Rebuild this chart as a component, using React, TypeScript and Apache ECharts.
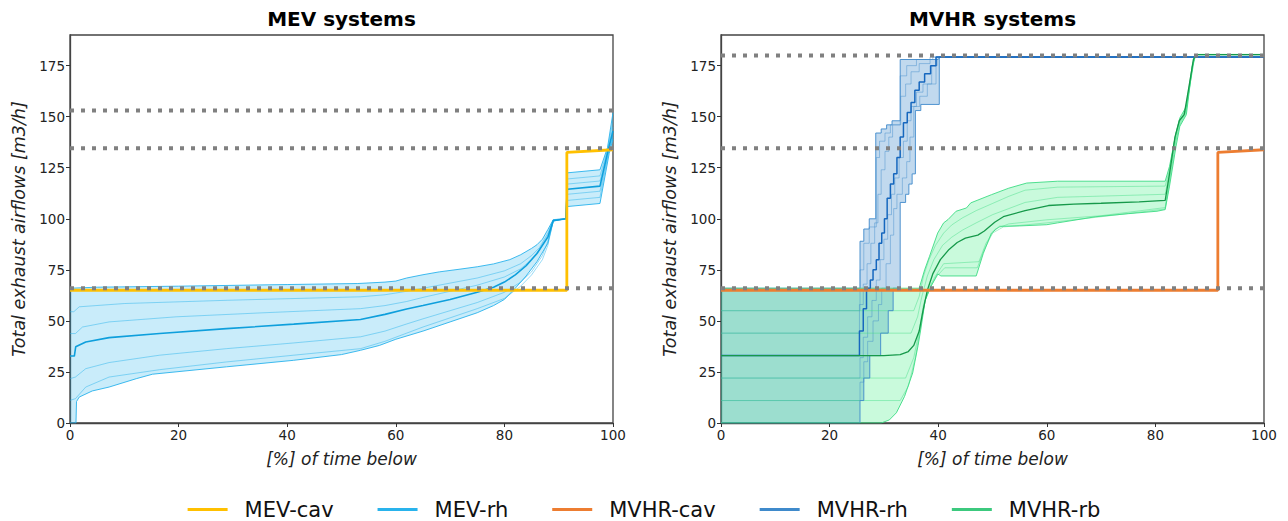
import React, { useEffect, useRef } from "react";
import * as echarts from "echarts";

// ---------- reference levels ----------
const mevRefLevels = [66, 134.5, 153];
const mvhrRefLevels = [66, 134.5, 180];
const yTicks = [0, 25, 50, 75, 100, 125, 150, 175];

// ---------- constant airflow (cav) ----------
const cavCurve = [[0, 65], [91.5, 65], [91.5, 132.5], [100, 133.8]];

// ---------- MEV-rh (min, quantiles, median, max) ----------
const mevRhMax = [[0, 66], [5, 66.5], [20, 67], [40, 67.8], [53, 68.3], [58, 69], [60, 69.5], [62, 71], [65, 72.6], [68, 74], [72, 75.4], [75, 76.5], [78, 77.9], [81, 80], [83, 82.4], [85, 85.5], [86, 87.3], [87, 90], [88, 94.7], [89, 99.6], [91.3, 100], [91.6, 122.5], [97.6, 124], [99, 135], [100, 152]];
const mevRhQ5 = [[0, 54.5], [0.7, 54.5], [1.7, 56.9], [10, 58.5], [29, 60.1], [53.5, 61.8], [58, 62.8], [62, 64.5], [65, 66], [70, 68.5], [75, 71], [80, 74.5], [83, 78], [85, 82], [86.5, 86], [88, 93], [89, 99.5], [91.3, 100], [91.6, 119.5], [97.6, 121], [99, 134], [100, 148]];
const mevRhQ4 = [[0, 43.8], [1, 43.8], [2.3, 47], [7.2, 49.5], [19.6, 52], [35, 53.9], [53.5, 56], [58, 57.5], [62, 59.5], [65, 61.5], [70, 64.5], [75, 67.5], [80, 71.5], [83, 75.5], [85, 80], [86.5, 85], [88, 92], [89, 99.5], [91.3, 100], [91.6, 117], [97.6, 118.5], [99.1, 134], [100, 145]];
const mevRhMed = [[0, 32.8], [0.8, 32.8], [1.05, 37.3], [2.9, 39.7], [7.2, 41.8], [16.5, 43.8], [28.8, 46.2], [41.2, 48.4], [53.5, 50.7], [58, 53.2], [62, 55.8], [65, 57.5], [70, 60.5], [75, 64], [78, 66.5], [80, 69], [82, 72.5], [84, 77], [86, 83], [88, 91], [89, 99], [91.3, 100], [91.6, 114.5], [97.6, 116], [99.1, 133.5], [100, 143]];
const mevRhQ2 = [[0, 21.7], [1, 22.5], [2.9, 26.6], [7.2, 29.6], [16.5, 33.2], [28.8, 36.4], [41.2, 39.2], [53.5, 42.2], [58, 45], [62, 48.5], [65, 51], [70, 55], [75, 59], [80, 64], [83, 69], [85, 74], [87, 82], [88, 89], [89, 99], [91.3, 100], [91.6, 112], [97.6, 113.5], [99.2, 133], [100, 141]];
const mevRhQ1 = [[0, 11.1], [1, 11.9], [2.9, 17.6], [7.2, 22.5], [16.5, 26.1], [28.8, 29.9], [41.2, 33.2], [53.5, 36.4], [58, 40], [62, 44], [65, 47], [70, 51.5], [75, 56], [80, 61], [83, 67], [85, 72.5], [87, 80], [88, 87], [89, 99], [91.3, 100], [91.6, 109], [97.6, 110.5], [99.2, 132.5], [100, 140]];
const mevRhMin = [[0, 0], [1.1, 0], [1.2, 10.5], [1.7, 12.7], [4.1, 15.7], [7.2, 17.6], [12.2, 21.7], [15.2, 23.9], [28.8, 27.5], [41.2, 30.7], [50, 33.5], [53.5, 35.6], [57, 38], [60, 41], [65, 45], [70, 49.5], [75, 54], [78, 57.5], [80, 60.5], [82, 66], [84, 72], [86, 79], [88, 88], [89, 99], [91.3, 100], [91.6, 106], [97.6, 107.5], [99.3, 132], [100, 139]];

// ---------- MVHR-rh (stepped) ----------
const mvhrRhMax = [[0, 66], [25.6, 66], [25.6, 89], [26.3, 89], [26.3, 95], [27.3, 95], [27.3, 100], [28.5, 100], [28.5, 142], [29.5, 142], [29.5, 144], [30.5, 144], [30.5, 146], [31.5, 146], [31.5, 148], [33, 148], [33, 178], [40, 178], [40.3, 179.2], [100, 179.2]];
const mvhrRhQ5 = [[0, 55], [25.6, 55], [25.6, 75], [26.3, 75], [26.3, 88], [27.3, 88], [27.3, 96], [28.6, 96], [28.6, 130], [29.2, 130], [29.2, 138], [30.2, 138], [30.2, 142], [31.2, 142], [31.2, 146], [33, 146], [33, 170], [34.2, 170], [34.2, 175], [36, 175], [36, 178], [39, 178], [39, 179.2], [100, 179.2]];
const mvhrRhQ4 = [[0, 44], [25.5, 44], [25.5, 58], [26.2, 58], [26.2, 68], [26.9, 68], [26.9, 78], [27.6, 78], [27.6, 88], [28.3, 88], [28.3, 98], [28.9, 98], [28.9, 112], [29.5, 112], [29.5, 124], [30.2, 124], [30.2, 133], [30.9, 133], [30.9, 140], [31.6, 140], [31.6, 146], [33.1, 146], [33.1, 160], [34, 160], [34, 166], [35, 166], [35, 172], [36.5, 172], [36.5, 176], [38.5, 176], [38.5, 179.2], [100, 179.2]];
const mvhrRhMed = [[0, 33], [25.5, 33], [25.5, 45], [26.2, 45], [26.2, 56], [26.8, 56], [26.8, 66], [27.5, 66], [27.5, 70], [28, 70], [28, 75], [28.6, 75], [28.6, 80], [29.1, 80], [29.1, 88], [29.6, 88], [29.6, 93], [30.1, 93], [30.1, 100], [30.6, 100], [30.6, 110], [31.2, 110], [31.2, 117], [31.8, 117], [31.8, 122], [32.4, 122], [32.4, 130], [33, 130], [33, 140], [33.6, 140], [33.6, 147], [34.3, 147], [34.3, 152], [35, 152], [35, 157], [35.7, 157], [35.7, 163], [36.5, 163], [36.5, 167], [37.5, 167], [37.5, 171], [38.6, 171], [38.6, 175], [39.6, 175], [39.6, 179.2], [100, 179.2]];
const mvhrRhQ2 = [[0, 22], [25.6, 22], [25.6, 32], [26.2, 32], [26.2, 42], [27, 42], [27, 52], [27.8, 52], [27.8, 60], [28.6, 60], [28.6, 70], [29.3, 70], [29.3, 80], [30, 80], [30, 90], [30.7, 90], [30.7, 102], [31.4, 102], [31.4, 112], [32, 112], [32, 120], [32.8, 120], [32.8, 130], [33.6, 130], [33.6, 138], [34.3, 138], [34.3, 148], [35, 148], [35, 155], [36, 155], [36, 162], [37.2, 162], [37.2, 166], [38.8, 166], [38.8, 175], [39.8, 175], [39.8, 179.2], [100, 179.2]];
const mvhrRhQ1 = [[0, 11], [25.6, 11], [25.6, 20], [26.3, 20], [26.3, 30], [27, 30], [27, 40], [28, 40], [28, 50], [29, 50], [29, 58], [29.6, 58], [29.6, 66], [30.4, 66], [30.4, 78], [31.2, 78], [31.2, 92], [31.8, 92], [31.8, 105], [32.4, 105], [32.4, 112], [33.4, 112], [33.4, 120], [34.2, 120], [34.2, 128], [34.8, 128], [34.8, 140], [35.5, 140], [35.5, 155], [36.6, 155], [36.6, 160], [38, 160], [38, 166], [39.6, 166], [39.6, 179.2], [100, 179.2]];
const mvhrRhMin = [[0, 0], [25.6, 0], [25.6, 11], [26.3, 11], [26.3, 22], [27.4, 22], [27.4, 33], [29.4, 33], [29.4, 44], [30.8, 44], [30.8, 55], [31.7, 55], [31.7, 66], [33, 66], [33, 108], [34, 108], [34, 112], [34.6, 112], [34.6, 117], [35.2, 117], [35.2, 122], [35.8, 122], [35.8, 153], [36.8, 153], [36.8, 156], [40.2, 156], [40.2, 179.2], [100, 179.2]];

// ---------- MVHR-rb ----------
const mvhrRbMax = [[0, 66], [36.5, 66], [37.5, 75], [38.4, 81.6], [39.9, 93], [41, 98], [41.8, 99.6], [43.3, 103.7], [45.2, 105.3], [46, 107.8], [49.8, 111.8], [53, 115], [56.3, 117.5], [62, 118.4], [81.8, 118.4], [82.6, 125.7], [83.8, 142], [84.5, 149.4], [85.7, 155], [87.2, 178.8], [87.6, 180.5], [100, 180.5]];
const mvhrRbQ5 = [[0, 55], [35.5, 55], [36.5, 62], [37.3, 72], [38.3, 80], [39.5, 87], [41, 93], [42.5, 97], [44.5, 100.5], [47, 104], [50, 107.5], [53, 111], [56, 114], [62, 115.5], [81.8, 116], [82.6, 124], [83.7, 141], [84.5, 148.5], [85.5, 153], [87, 178], [87.5, 180.4], [100, 180.4]];
const mvhrRbQ4 = [[0, 44], [35, 44], [36.2, 52], [37, 62], [38, 72], [39.2, 80], [40.8, 87], [42.5, 91], [44.5, 94.5], [47, 98], [50, 102], [53, 105], [56, 108], [62, 110.5], [81.8, 112], [82.6, 123], [83.7, 140], [84.5, 148], [85.5, 152], [87, 177], [87.6, 180.4], [100, 180.4]];
const mvhrRbMed = [[0, 33], [30, 33], [33, 33.5], [34.5, 35], [35.5, 38], [36.5, 45], [37.2, 55], [38, 65], [39, 73], [40.4, 80], [42, 85], [43.5, 88.4], [45, 90.5], [47.3, 92], [48.5, 94], [50.4, 98.3], [52, 101], [56, 104], [60.3, 106.5], [65, 107.2], [70, 107.6], [77, 108.3], [81.8, 109], [82.6, 122], [83.6, 140], [84.4, 148], [85.3, 151], [86.2, 165], [87, 178], [87.5, 180.4], [100, 180.4]];
const mvhrRbQ2 = [[0, 22], [34, 22], [35.5, 32], [36.5, 45], [37.3, 58], [38.3, 66], [39.5, 72], [41, 78], [47.5, 79], [48.8, 88], [50.5, 95], [53, 97.5], [60, 99.5], [70, 101.5], [81.8, 105.5], [82.6, 120], [83.7, 138], [84.5, 147], [85.6, 152], [86.9, 176], [87.5, 180.4], [100, 180.4]];
const mvhrRbQ1 = [[0, 11], [33, 11], [34.5, 18], [35.8, 32], [36.8, 48], [37.6, 60], [38.6, 67], [39.8, 72], [41.2, 76], [47.2, 76], [48.5, 85], [50, 93], [52, 96], [60, 98], [70, 101], [81.8, 104.8], [82.6, 118], [83.7, 137], [84.5, 146], [85.6, 151.5], [86.8, 175.5], [87.4, 180.4], [100, 180.4]];
const mvhrRbMin = [[0, 0], [29.5, 0], [31, 1.5], [32.3, 5], [33.8, 13], [35.3, 24.5], [36.3, 38], [36.8, 46], [37.6, 60], [38.7, 67], [39.9, 73], [40.5, 72], [47, 72], [48.3, 83], [49.8, 93], [51.3, 96.3], [55, 96.5], [60, 97.1], [62, 98], [69, 101], [75, 102.5], [80.3, 103.7], [81.8, 104.5], [82.6, 116], [83.8, 135.5], [84.5, 145.3], [85.7, 151], [86.8, 174.7], [87.4, 180.4], [100, 180.4]];

// ---------- colours ----------
const C = {
  mevCav: "#FFC000",
  mevRh: "#29B3EC",
  mevRhDark: "#0E9FDC",
  mevRhFill: "rgba(41,179,236,0.25)",
  mvhrCav: "#ED7D31",
  mvhrRh: "#3F8ACB",
  mvhrRhDark: "#1667BE",
  mvhrRhFill: "rgba(63,138,203,0.32)",
  mvhrRb: "#3DDC84",
  mvhrRbDark: "#16994A",
  mvhrRbFill: "rgba(61,236,130,0.28)",
  ref: "#808080",
};

const FONT = "DejaVu Sans";

function band(axis: number, upper: number[][], lower: number[][], fill: string, z: number) {
  return {
    type: "custom",
    xAxisIndex: axis,
    yAxisIndex: axis,
    silent: true,
    z,
    data: [[0, 0]],
    renderItem: (_p: any, api: any) => {
      const pts = [
        ...upper.map((p) => api.coord(p)),
        ...lower.slice().reverse().map((p) => api.coord(p)),
      ];
      return { type: "polygon", shape: { points: pts }, style: { fill } };
    },
  };
}

function line(axis: number, data: number[][], color: string, width: number, z: number, name?: string, opacity = 1, dash?: any) {
  const s: any = {
    type: "line",
    xAxisIndex: axis,
    yAxisIndex: axis,
    data,
    showSymbol: false,
    symbol: "none",
    silent: true,
    z,
    lineStyle: { color, width, opacity, type: dash || "solid", cap: "butt" },
    itemStyle: { color },
  };
  if (name) s.name = name;
  return s;
}

function refLines(axis: number, levels: number[]) {
  return levels.map((v) =>
    line(axis, [[0, v], [100, v]], C.ref, 4, 20, undefined, 1, [4, 7])
  );
}

function xAxis(idx: number) {
  return {
    type: "value",
    gridIndex: idx,
    min: 0,
    max: 100,
    interval: 20,
    name: "[%] of time below",
    nameLocation: "middle",
    nameGap: 27,
    nameTextStyle: { fontFamily: FONT, fontStyle: "italic", fontSize: 17, color: "#222" },
    axisLine: { show: true, lineStyle: { color: "#444", width: 1.3 } },
    axisTick: { show: true, length: 4, lineStyle: { color: "#333" } },
    axisLabel: { fontFamily: FONT, fontSize: 13.5, color: "#222", margin: 5 },
    splitLine: { show: false },
  };
}

function yAxis(idx: number) {
  return {
    type: "value",
    gridIndex: idx,
    min: 0,
    max: 190,
    interval: 25,
    name: "Total exhaust airflows [m3/h]",
    nameLocation: "middle",
    nameGap: 42,
    nameRotate: 90,
    nameTextStyle: { fontFamily: FONT, fontStyle: "italic", fontSize: 17.5, color: "#222" },
    axisLine: { show: true, lineStyle: { color: "#444", width: 1.3 } },
    axisTick: { show: true, length: 4, lineStyle: { color: "#333" }, customValues: yTicks },
    axisLabel: {
      fontFamily: FONT,
      fontSize: 13.5,
      color: "#222",
      margin: 5,
      customValues: yTicks,
      formatter: (v: number) => (v % 25 === 0 ? String(v) : ""),
    },
    splitLine: { show: false },
  };
}

export default function App() {
  const ref = useRef<HTMLDivElement>(null);
  useEffect(() => {
    if (!ref.current) return;
    const chart = echarts.init(ref.current, undefined, { renderer: "svg" });
    const series: any[] = [
      // MEV panel
      band(0, mevRhMax, mevRhMin, C.mevRhFill, 1),
      line(0, mevRhQ5, C.mevRh, 0.8, 2, undefined, 0.6),
      line(0, mevRhQ4, C.mevRh, 0.8, 2, undefined, 0.6),
      line(0, mevRhQ2, C.mevRh, 0.8, 2, undefined, 0.6),
      line(0, mevRhQ1, C.mevRh, 0.8, 2, undefined, 0.6),
      line(0, mevRhMax, C.mevRh, 1, 3, undefined, 0.9),
      line(0, mevRhMin, C.mevRh, 1, 3, undefined, 0.9),
      line(0, mevRhMed, C.mevRhDark, 1.6, 4, "MEV-rh"),
      line(0, cavCurve, C.mevCav, 2.8, 10, "MEV-cav"),
      ...refLines(0, mevRefLevels),
      // MVHR panel
      band(1, mvhrRhMax, mvhrRhMin, C.mvhrRhFill, 1),
      band(1, mvhrRbMax, mvhrRbMin, C.mvhrRbFill, 1),
      line(1, mvhrRhQ5, C.mvhrRh, 0.8, 2, undefined, 0.55),
      line(1, mvhrRhQ4, C.mvhrRh, 0.8, 2, undefined, 0.55),
      line(1, mvhrRhQ2, C.mvhrRh, 0.8, 2, undefined, 0.55),
      line(1, mvhrRhQ1, C.mvhrRh, 0.8, 2, undefined, 0.55),
      line(1, mvhrRhMax, C.mvhrRh, 1, 3, undefined, 0.9),
      line(1, mvhrRhMin, C.mvhrRh, 1, 3, undefined, 0.9),
      line(1, mvhrRhMed, C.mvhrRhDark, 1.5, 4, "MVHR-rh"),
      line(1, mvhrRbQ5, C.mvhrRb, 0.8, 2, undefined, 0.55),
      line(1, mvhrRbQ4, C.mvhrRb, 0.8, 2, undefined, 0.55),
      line(1, mvhrRbQ2, C.mvhrRb, 0.8, 2, undefined, 0.55),
      line(1, mvhrRbQ1, C.mvhrRb, 0.8, 2, undefined, 0.55),
      line(1, mvhrRbMax, C.mvhrRb, 1, 3, undefined, 0.9),
      line(1, mvhrRbMin, C.mvhrRb, 1, 3, undefined, 0.9),
      line(1, mvhrRbMed, C.mvhrRbDark, 1.3, 4, "MVHR-rb"),
      line(1, cavCurve, C.mvhrCav, 2.8, 10, "MVHR-cav"),
      ...refLines(1, mvhrRefLevels),
    ];
    chart.setOption({
      animation: false,
      backgroundColor: "#ffffff",
      textStyle: { fontFamily: FONT },
      grid: [
        { left: 70, right: 675, top: 35, bottom: 98, show: true, borderColor: "#444", borderWidth: 1.3, backgroundColor: "transparent" },
        { left: 721, right: 24, top: 35, bottom: 98, show: true, borderColor: "#444", borderWidth: 1.3, backgroundColor: "transparent" },
      ],
      xAxis: [xAxis(0), xAxis(1)],
      yAxis: [yAxis(0), yAxis(1)],
      legend: {
        top: 494,
        left: "center",
        itemWidth: 40,
        itemHeight: 3,
        itemGap: 44,
        selectedMode: false,
        textStyle: { fontFamily: FONT, fontSize: 21, color: "#111", padding: [0, 0, 0, 12] },
        data: [
          { name: "MEV-cav", icon: "rect", itemStyle: { color: C.mevCav } },
          { name: "MEV-rh", icon: "rect", itemStyle: { color: C.mevRh } },
          { name: "MVHR-cav", icon: "rect", itemStyle: { color: C.mvhrCav } },
          { name: "MVHR-rh", icon: "rect", itemStyle: { color: C.mvhrRh } },
          { name: "MVHR-rb", icon: "rect", itemStyle: { color: "#3CC97E" } },
        ],
      },
      graphic: [
        { type: "text", x: 341.5, y: 19, style: { text: "MEV systems", font: `bold 20px '${FONT}'`, fill: "#000", textAlign: "center", textVerticalAlign: "middle" } },
        { type: "text", x: 992.5, y: 19, style: { text: "MVHR systems", font: `bold 20px '${FONT}'`, fill: "#000", textAlign: "center", textVerticalAlign: "middle" } },
      ],
      series,
    });
    return () => chart.dispose();
  }, []);
  return <div ref={ref} style={{ position: "absolute", left: 0, top: 0, width: 1288, height: 521 }} />;
}
